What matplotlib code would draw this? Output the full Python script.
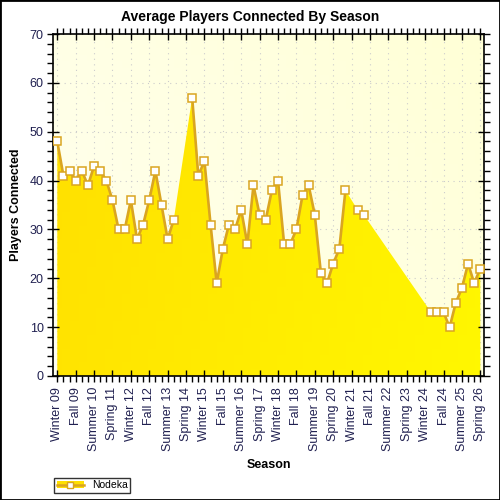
import numpy as np
import matplotlib
matplotlib.use("Agg")
from matplotlib import pyplot as plt
from matplotlib.patches import Rectangle, Patch
from matplotlib.lines import Line2D
from matplotlib.ticker import MultipleLocator

plt.rcParams["font.family"] = ["Liberation Sans", "DejaVu Sans"]

# one entry per season, Winter 09 .. Spring 26 (None = no data)
seasons_names = ["Winter", "Spring", "Summer", "Fall"]
first_year = 9
n_seasons = 70
players = [48, 41, 42, 40, 42, 39, 43, 42, 40, 36,
           30, 30, 36, 28, 31, 36, 42, 35, 28, 32,
           None, None, 57, 41, 44, 31, 19, 26, 31, 30,
           34, 27, 39, 33, 32, 38, 40, 27, 27, 30,
           37, 39, 33, 21, 19, 23, 26, 38, None, 34,
           33, None, None, None, None, None, None, None, None, None,
           None, 13, 13, 13, 10, 15, 18, 23, 19, 22]
label_every = 3
series_name = "Nodeka"

labels = []
for i in range(n_seasons):
    labels.append("%s %02d" % (seasons_names[i % 4], first_year + i // 4))

x = np.arange(n_seasons)
y = np.array([np.nan if v is None else v for v in players], dtype=float)
ok = ~np.isnan(y)

line_col = "#DAA520"
txt_col = "#202050"

fig = plt.figure(figsize=(5, 5), dpi=100)
ax = fig.add_axes([53.3 / 500, 124 / 500, 430.7 / 500, 342 / 500])
ax.set_xlim(-0.65, 69.6)
ax.set_ylim(0, 70)

# plot background gradient
bg = np.zeros((50, 50, 3))
gx, gy = np.meshgrid(np.linspace(0, 1, 50), np.linspace(0, 1, 50))
t = np.clip(0.6 * gx + 0.4 * gy, 0, 1)
bg[..., 0] = 1.0
bg[..., 1] = 1.0
bg[..., 2] = (0.94 - 0.1 * t)
ax.imshow(bg, extent=[-0.65, 69.6, 0, 70], origin="lower", aspect="auto", zorder=0)

# area with gradient, polygon through available points
xv = x[ok]
yv = y[ok]
poly = ax.fill_between(xv, 0, yv, color="none", lw=0, zorder=1)
grad = np.zeros((50, 50, 3))
t2 = np.clip(0.8 * gx + 0.2 * (1 - gy), 0, 1)
grad[..., 0] = 1.0
grad[..., 1] = (0.875 + 0.095 * t2)
grad[..., 2] = 0.0
im = ax.imshow(grad, extent=[-0.65, 69.6, 0, 70], origin="lower", aspect="auto", zorder=1)
im.set_clip_path(poly.get_paths()[0], transform=ax.transData)

ax.plot(x, y, color=line_col, lw=1.9, zorder=3)
ax.plot(x, y, ls="none", marker="s", ms=5.8, mfc="white", mec=line_col, mew=1.1, zorder=4)

# grid
for gv in range(10, 70, 10):
    ax.axhline(gv, color="#cccccc", lw=0.8, ls=(0, (1, 4)), zorder=0.5)
for gv in range(0, n_seasons, label_every):
    ax.axvline(gv, color="#cccccc", lw=0.8, ls=(0, (1, 4)), zorder=0.5)

ax.set_xticks(x[::label_every])
ax.set_xticklabels(labels[::label_every], rotation=90, fontsize=9, color=txt_col)
ax.xaxis.set_minor_locator(MultipleLocator(1))
ax.yaxis.set_major_locator(MultipleLocator(10))
ax.yaxis.set_minor_locator(MultipleLocator(2))
ax.tick_params(which="major", direction="inout", length=8, width=1, top=True, right=True,
               labelsize=9, labelcolor=txt_col, pad=3)
ax.tick_params(axis="x", which="major", pad=4)
ax.tick_params(which="minor", direction="out", length=4, width=1, top=True, right=True)
for s in ax.spines.values():
    s.set_linewidth(1.2)

ax.set_xlabel("Season", fontsize=9, fontweight="bold")
ax.xaxis.set_label_coords(0.5, -0.242)
ax.xaxis.label.set_va("top")
ax.set_ylabel("Players Connected", fontsize=9, fontweight="bold")
ax.yaxis.set_label_coords(-0.072, 0.5)

fig.text(0.5, 1 - 17 / 500, "Average Players Connected By Season", ha="center", va="center",
         fontsize=10, fontweight="bold")

# legend
h = (Patch(facecolor="#FFE000", edgecolor="none"),
     Line2D([], [], color=line_col, lw=1.8, marker="s", ms=5, mfc="white", mec=line_col))
leg = fig.legend([h], [series_name], loc="lower left", bbox_to_anchor=(54 / 500, 7 / 500),
                 fontsize=7.5, frameon=True, fancybox=False, borderpad=0.25,
                 handlelength=2.6, handletextpad=0.8, borderaxespad=0)
leg.get_frame().set_edgecolor("black")
leg.get_frame().set_linewidth(1)

fig.patches.append(Rectangle((0, 0), 1, 1, transform=fig.transFigure, fill=False,
                             edgecolor="black", lw=2))

fig.savefig("out.png", dpi=100)
